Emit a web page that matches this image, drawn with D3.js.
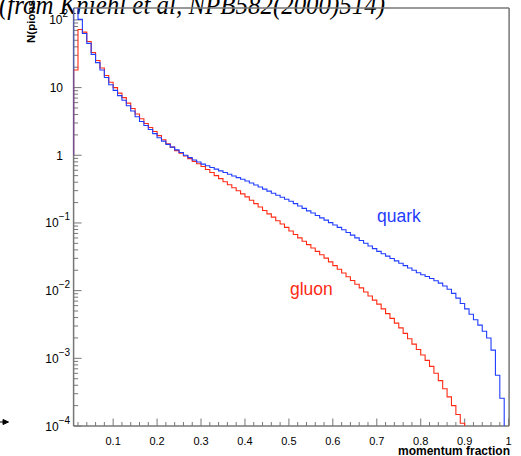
<!DOCTYPE html>
<html><head><meta charset="utf-8">
<script src="https://cdn.jsdelivr.net/npm/d3@7"></script>
<style>body{margin:0;background:#fff}svg{display:block}</style>
</head><body>
<script>
// bin low edges: 0.01 .. 0.99, width 0.01
const binWidth = 0.01;
const binEdges = d3.range(1, 100).map(i => i / 100);
const quark = [180,102,63,45,31,23.4,18.2,14.1,11.0,9.1,7.6,6.5,5.4,4.5,3.7,3.16,2.75,2.40,2.09,1.82,
  1.62,1.45,1.32,1.20,1.10,1.00,0.923,0.851,0.794,0.741,0.700,0.661,0.624,0.589,0.556,0.525,0.495,0.468,0.442,0.417,
  0.389,0.363,0.339,0.316,0.295,0.275,0.257,0.240,0.224,0.209,0.193,0.178,0.164,0.151,0.140,0.129,0.119,0.110,0.101,0.0933,
  0.0861,0.0794,0.0724,0.0661,0.0603,0.0550,0.0501,0.0457,0.0417,0.0380,0.0351,0.0324,0.0299,0.0275,0.0254,0.0234,0.0216,0.0200,0.0184,0.0172,
  0.0162,0.0151,0.0140,0.0129,0.0117,0.0105,0.00912,0.00776,0.00646,0.00537,0.00447,0.00372,0.00309,0.00251,0.00200,0.00132,0.000562,0.000257,0];
const gluon = [18.2,72,66,48,33,25.1,19.5,15.1,12.0,10.0,8.3,7.1,5.9,4.9,4.07,3.47,2.95,2.57,2.24,1.95,
  1.70,1.48,1.32,1.17,1.07,0.977,0.891,0.813,0.750,0.684,0.617,0.556,0.501,0.452,0.407,0.367,0.331,0.299,0.269,0.243,
  0.216,0.193,0.172,0.153,0.136,0.122,0.108,0.0966,0.0861,0.0759,0.0676,0.0603,0.0537,0.0479,0.0427,0.0380,0.0339,0.0302,0.0266,0.0234,
  0.0207,0.0182,0.0160,0.0141,0.0124,0.0110,0.00955,0.00832,0.00724,0.00631,0.00537,0.00457,0.00389,0.00331,0.00282,0.00234,0.00195,0.00162,0.00135,0.00112,
  0.000933,0.000759,0.000603,0.000468,0.000355,0.000269,0.000200,0.000148,0.000110,0,0,0,0,0,0,0,0,0,0];
const xTickLabels = ["0.1","0.2","0.3","0.4","0.5","0.6","0.7","0.8","0.9","1"];
const yDecades = [-4,-3,-2,-1,0,1,2];
const title = "(from Kniehl et al, NPB582(2000)514)";
const xTitle = "momentum fraction";
const yTitle = "N(pions)";

const W = 521, H = 456;
const L = 73.6, R = 508.6, T = 8, B = 426;
const svg = d3.select("body").append("svg").attr("width", W).attr("height", H);
const x = d3.scaleLinear().domain([0.01, 1]).range([L, R]);
const y = d3.scaleLog().domain([1e-4, 150]).range([B, T]);

svg.append("defs").append("clipPath").attr("id","clip")
  .append("rect").attr("x", L).attr("y", T).attr("width", R - L).attr("height", B - T);

function histPath(vals) {
  const p = d3.path();
  const yv = v => (v > 1e-4 ? y(v) : B);
  p.moveTo(x(binEdges[0]), y(1));
  let last = vals.length - 1;
  while (last > 0 && !(vals[last] > 1e-4)) last--;
  for (let i = 0; i <= last; i++) {
    p.lineTo(x(binEdges[i]), yv(vals[i]));
    p.lineTo(x(binEdges[i] + binWidth), yv(vals[i]));
  }
  p.lineTo(x(binEdges[last] + binWidth), B);
  return p.toString();
}

const axisCol = "#777";
// title (drawn first, frame line crosses it)
svg.append("text").attr("x", -1).attr("y", 14)
  .attr("font-family", "'Liberation Serif', 'Times New Roman', serif").attr("font-style", "italic").attr("font-size", 26.5)
  .attr("textLength", 386).attr("lengthAdjust", "spacingAndGlyphs")
  .text(title);

// frame
svg.append("line").attr("x1", L).attr("x2", R + 0.5).attr("y1", T).attr("y2", T).attr("stroke", axisCol).attr("stroke-width", 1.5);
svg.append("line").attr("x1", R + 0.5).attr("x2", R + 0.5).attr("y1", T).attr("y2", B).attr("stroke", axisCol).attr("stroke-width", 1.5);

// y axis
const yAxis = g => {
  g.append("line").attr("x1", L).attr("x2", L).attr("y1", T).attr("y2", B).attr("stroke", axisCol).attr("stroke-width", 1.5);
  yDecades.forEach(d => {
    for (let m = 1; m <= 9; m++) {
      const v = m * Math.pow(10, d);
      if (v < 1e-4 || v > 150) continue;
      const yy = y(v);
      g.append("line").attr("x1", L).attr("x2", L + (m === 1 ? 8 : 4.5)).attr("y1", yy).attr("y2", yy)
        .attr("stroke", axisCol).attr("stroke-width", 1);
    }
  });
  yDecades.forEach(d => {
    const yy = y(Math.pow(10, d));
    if (d === 0 || d === 1) {
      g.append("text").attr("x", 63).attr("y", yy + 4.5).attr("text-anchor", "end")
        .attr("font-size", 12).text(d === 0 ? "1" : "10");
    } else {
      const t = g.append("text").attr("x", 59).attr("y", yy + 4.5).attr("text-anchor", "start")
        .attr("font-size", 12);
      const expStr = d < 0 ? "\u2212" + (-d) : String(d);
      t.append("tspan").text("10");
      t.append("tspan").attr("dy", -7).attr("font-size", 10).text(expStr);
      const bb = t.node().getBBox();
      t.attr("x", (d > 0 ? 68.5 : 70.5) - bb.width);
    }
  });
};
svg.append("g").attr("font-family", "'Liberation Sans', Arial, sans-serif").attr("fill", "#000").call(yAxis);

// x axis
const xAxisG = svg.append("g").attr("font-family", "'Liberation Sans', Arial, sans-serif");
xAxisG.append("line").attr("x1", L).attr("x2", R + 0.5).attr("y1", B).attr("y2", B).attr("stroke", axisCol).attr("stroke-width", 1.5);
d3.range(1, 51).forEach(k => {
  const v = k * 0.02;
  const major = k % 5 === 0;
  xAxisG.append("line").attr("x1", x(v)).attr("x2", x(v)).attr("y1", B).attr("y2", B - (major ? 7.5 : 4))
    .attr("stroke", axisCol).attr("stroke-width", 1);
});
xTickLabels.forEach((lab, i) => {
  xAxisG.append("text").attr("x", x((i + 1) / 10)).attr("y", B + 19).attr("text-anchor", "middle")
    .attr("font-size", 11).text(lab);
});
xAxisG.append("text").attr("x", 510).attr("y", 455).attr("text-anchor", "end")
  .attr("font-size", 12).attr("font-weight", "bold").text(xTitle);

// histograms
const plot = svg.append("g").attr("clip-path", "url(#clip)");
plot.append("path").attr("d", histPath(gluon)).attr("fill", "none").attr("stroke", "#ff2a14").attr("stroke-width", 1.1);
plot.append("path").attr("d", histPath(quark)).attr("fill", "none").attr("stroke", "#1f3cff").attr("stroke-width", 1.1);

// labels
svg.append("text").attr("x", 377).attr("y", 222).attr("fill", "#1f3cff")
  .attr("font-family", "'Liberation Sans', Arial, sans-serif").attr("font-size", 17.5).text("quark");
svg.append("text").attr("x", 290).attr("y", 295).attr("fill", "#ff2a14")
  .attr("font-family", "'Liberation Sans', Arial, sans-serif").attr("font-size", 17.5).text("gluon");

// y title
svg.append("text").attr("transform", "translate(35,43) rotate(-90)")
  .attr("font-family", "'Liberation Sans', Arial, sans-serif").attr("font-size", 11.5).attr("font-weight", "bold")
  .text(yTitle);

// small arrow at bottom left
svg.append("path").attr("d", "M0,422 L4,422 M3,419.5 L8.5,422 L3,424.5 Z").attr("stroke", "#000").attr("stroke-width", 1).attr("fill", "#000");
</script>
</body></html>
